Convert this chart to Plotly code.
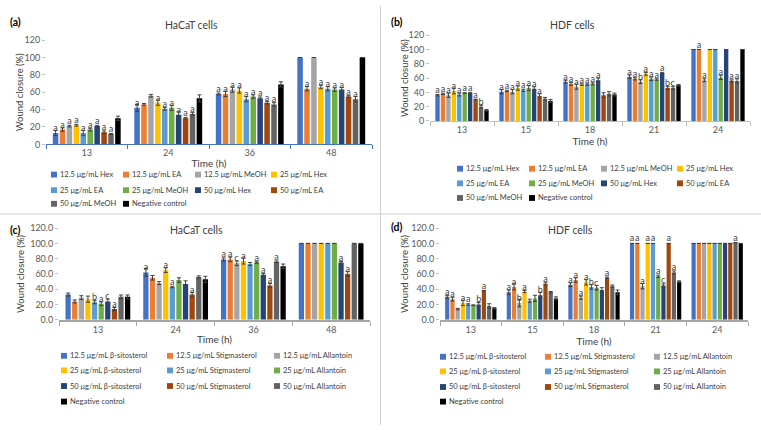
import plotly.graph_objects as go

W, H = 761, 430

# ---------------- data ----------------
SERIES_EXTRACT = ["12.5 μg/mL Hex", "12.5 μg/mL EA", "12.5 μg/mL MeOH", "25 μg/mL Hex",
                  "25 μg/mL EA", "25 μg/mL MeOH", "50 μg/mL Hex", "50 μg/mL EA",
                  "50 μg/mL MeOH", "Negative control"]
SERIES_COMPOUND = ["12.5 μg/mL β-sitosterol", "12.5 μg/mL Stigmasterol", "12.5 μg/mL Allantoin",
                   "25 μg/mL β-sitosterol", "25 μg/mL Stigmasterol", "25 μg/mL Allantoin",
                   "50 μg/mL β-sitosterol", "50 μg/mL Stigmasterol", "50 μg/mL Allantoin",
                   "Negative control"]
COLORS = ["#4472C4", "#ED7D31", "#A5A5A5", "#FFC000", "#5B9BD5",
          "#70AD47", "#264478", "#9E480E", "#636363", "#000000"]

TIMES_HACAT = ["13", "24", "36", "48"]
TIMES_HDF = ["13", "15", "18", "21", "24"]

# (a) HaCaT, extracts  -- one list per series, one value per time
A_VALUES = [
    [13, 42, 58, 100], [17, 46, 58, 64], [21, 56, 63, 100], [22, 48, 62, 66], [13, 41, 52, 64],
    [17, 42, 55, 63], [21, 34, 53, 63], [14, 30, 48, 55], [12, 35, 46, 52], [30, 53, 69, 100],
]
A_ERRORS = [
    [3, 4, 1, 0], [2, 1, 3, 2.5], [1, 1.5, 3, 0], [1, 3, 3, 2], [3, 1.5, 3, 2.5],
    [1.5, 3, 2, 2], [1, 3.5, 1.5, 2.5], [1.5, 1, 1.5, 1], [0.5, 1.5, 2, 3], [2.5, 4, 3, 0],
]
A_LABELS = [  # one list per time, one letter per series
    ["a", "a", "a", "a", "a", "a", "a", "a", "a", ""],
    ["a", "", "", "a", "a", "a", "a", "a", "a", ""],
    ["a", "a", "a", "a", "a", "a", "a", "a", "a", ""],
    ["", "a", "", "a", "a", "a", "a", "a", "a", ""],
]

# (b) HDF, extracts
B_VALUES = [
    [36, 41, 55, 62, 100], [38, 42, 52, 59, 100], [36, 41, 48, 55, 57], [42, 46, 51, 66, 100],
    [37, 43, 51, 59, 100], [39, 46, 52, 58, 61], [39, 45, 57, 67, 100], [30, 35, 36, 46, 56],
    [20, 31, 38, 46, 56], [15, 28, 37, 50, 100],
]
B_ERRORS = [
    [1, 3, 2, 2.5, 0], [1, 1, 2, 1.5, 0], [3, 3, 3.5, 2.5, 2], [4, 3, 1, 2, 0],
    [2, 1.5, 1, 2.5, 0], [0.5, 3.5, 1.5, 1, 3], [1, 3, 3, 1, 0], [0.5, 3, 3.5, 2, 1.5],
    [2, 2, 3, 2, 3], [1, 2, 2, 1, 0],
]
B_LABELS = [
    ["a", "a", "a", "a", "a", "a", "a", "a", "b", ""],
    ["a", "a", "a", "a", "a", "a", "a", "a", "", ""],
    ["a", "a", "a", "a", "a", "a", "a", "", "", ""],
    ["a", "a", "b", "a", "a", "a", "a", "b", "c", ""],
    ["", "a", "a", "", "", "a", "", "a", "a", ""],
]

# (c) HaCaT, compounds
C_VALUES = [
    [33, 62, 79, 100], [24, 55, 79, 100], [29, 48, 74, 100], [27, 65, 77, 100], [23, 43, 73, 100],
    [21, 52, 75, 100], [24, 47, 59, 75], [14, 33, 45, 60], [30, 56, 76, 100], [30, 53, 70, 100],
]
C_ERRORS = [
    [2, 5, 2, 0], [2, 3, 3, 0], [2.5, 2, 3, 0], [4, 3, 4, 0], [2, 1, 2, 0],
    [2.5, 3, 1, 0], [3, 4, 1.5, 1.5], [2, 3, 2.5, 3], [2.5, 1.5, 1, 0], [2.5, 4, 3, 0],
]
C_LABELS = [
    ["", "", "", "", "b", "a", "c", "a", "", ""],
    ["a", "", "", "a", "a", "", "", "a", "", ""],
    ["a", "a", "c", "a", "", "a", "a", "a", "a", ""],
    ["", "", "", "", "", "", "a", "a", "", ""],
]

# (d) HDF, compounds
D_VALUES = [
    [30, 36, 46, 100, 100], [27, 43, 52, 100, 100], [14, 22, 29, 44, 100], [22, 37, 49, 100, 100],
    [20, 25, 43, 100, 100], [19, 28, 42, 57, 100], [20, 32, 39, 45, 100], [38, 47, 55, 100, 100],
    [18, 36, 44, 62, 101], [15, 28, 36, 50, 100],
]
D_ERRORS = [
    [2, 3, 2.5, 0, 0], [2.5, 4, 3, 0, 0], [1, 5, 2, 3.5, 0], [3.5, 1.5, 3.5, 0, 0],
    [1, 2, 3, 0, 0], [0.5, 4, 3, 1.5, 0], [2.5, 4, 3, 2, 0], [0.5, 1.5, 1, 0, 0],
    [3, 1, 1.5, 2, 0], [1, 2, 3, 1, 0],
]
D_LABELS = [
    ["a", "a", "", "a", "a", "", "b", "a", "", ""],
    ["a", "a", "b", "a", "", "", "b", "a", "", ""],
    ["a", "a", "a", "a", "b", "c", "", "a", "", ""],
    ["a", "a", "a", "a", "a", "a", "c", "a", "a", ""],
    ["", "", "", "", "", "", "", "", "a", ""],
]

# ---------------- layout helpers ----------------
FONT = "Lato"
def px_x(x):
    return x / W
def px_y(y):
    return 1 - y / H

PANELS = [
    dict(tag="(a)", title="HaCaT cells", times=TIMES_HACAT, values=A_VALUES, errors=A_ERRORS,
         labels=A_LABELS, names=SERIES_EXTRACT, x0=46, x1=372, y0=142, y1=35, fmt="d",
         line="#4472C4", lw=1.2, title_xy=(192, 19), tag_xy=(8, 16), ytitle_x=19,
         leg_cols=[54, 126, 198, 274], leg_rows=[173, 189, 203], ncols=4, xstand=2),
    dict(tag="(b)", title="HDF cells", times=TIMES_HDF, values=B_VALUES, errors=B_ERRORS,
         labels=B_LABELS, names=SERIES_EXTRACT, x0=430, x1=750, y0=118, y1=30, fmt="d",
         line="#BFBFBF", lw=1.2, title_xy=(572, 20), tag_xy=(389, 16), ytitle_x=404,
         leg_cols=[460, 532, 604, 680], leg_rows=[167, 182, 197], ncols=4, xstand=4),
    dict(tag="(c)", title="HaCaT cells", times=TIMES_HACAT, values=C_VALUES, errors=C_ERRORS,
         labels=C_LABELS, names=SERIES_COMPOUND, x0=59, x1=370, y0=322, y1=228, fmt=".1f",
         line="#A6A6A6", lw=2, title_xy=(197, 230), tag_xy=(8, 230), ytitle_x=21,
         leg_cols=[64, 170, 277], leg_rows=[359, 374, 390, 406], ncols=3, xstand=2),
    dict(tag="(d)", title="HDF cells", times=TIMES_HDF, values=D_VALUES, errors=D_ERRORS,
         labels=D_LABELS, names=SERIES_COMPOUND, x0=440, x1=748, y0=322, y1=228, fmt=".1f",
         line="#A6A6A6", lw=2, title_xy=(570, 230), tag_xy=(389, 227), ytitle_x=405,
         leg_cols=[443, 548, 657], leg_rows=[360, 375, 391, 406], ncols=3, xstand=2),
]

fig = go.Figure()
annotations = []
shapes = []
layout_axes = {}

for p_i, p in enumerate(PANELS):
    suffix = "" if p_i == 0 else str(p_i + 1)
    xa, ya = "x" + suffix, "y" + suffix
    for s_i, name in enumerate(p["names"]):
        errs = [e if e > 0 else None for e in p["errors"][s_i]]
        texts = [p["labels"][t_i][s_i] for t_i in range(len(p["times"]))]
        fig.add_trace(go.Bar(
            x=p["times"], y=p["values"][s_i], name=name, xaxis=xa, yaxis=ya,
            marker=dict(color=COLORS[s_i], line=dict(width=0)),
            error_y=dict(type="data", array=errs, color="#404040", thickness=1, width=2),
            text=texts, textposition="outside", textangle=0, constraintext="none",
            cliponaxis=False, textfont=dict(family=FONT, size=9, color="#404040"),
            showlegend=False, hoverinfo="skip",
        ))
    layout_axes["xaxis" + suffix] = dict(
        type="category", domain=[px_x(p["x0"]), px_x(p["x1"])], anchor=ya,
        showline=True, linecolor=p["line"], linewidth=p["lw"],
        ticks="outside", tickson="boundaries", ticklen=4, tickcolor=p["line"],
        tickfont=dict(family=FONT, size=9, color="#595959"), showgrid=False,
        title=dict(text="Time (h)", font=dict(family=FONT, size=10, color="#404040"),
                   standoff=p["xstand"]),
    )
    layout_axes["yaxis" + suffix] = dict(
        domain=[px_y(p["y0"]), px_y(p["y1"])], anchor=xa, range=[0, 120], dtick=20,
        tickformat=p["fmt"], showline=False, showgrid=False, zeroline=False,
        ticks="outside", ticklen=3, tickcolor="#BFBFBF",
        tickfont=dict(family=FONT, size=9, color="#595959"),
    )
    # y-axis title
    annotations.append(dict(text="Wound closure (%)", x=px_x(p["ytitle_x"]),
                            y=px_y((p["y0"] + p["y1"]) / 2), xref="paper", yref="paper",
                            textangle=-90, showarrow=False, xanchor="center", yanchor="middle",
                            font=dict(family=FONT, size=9.5, color="#404040")))
    # panel title and tag
    tx, ty = p["title_xy"]
    annotations.append(dict(text=p["title"], x=px_x(tx), y=px_y(ty), xref="paper", yref="paper",
                            showarrow=False, xanchor="center", yanchor="middle",
                            font=dict(family=FONT, size=10.5, color="#404040")))
    gx, gy = p["tag_xy"]
    annotations.append(dict(text="<b>" + p["tag"] + "</b>", x=px_x(gx), y=px_y(gy), xref="paper",
                            yref="paper", showarrow=False, xanchor="left", yanchor="middle",
                            font=dict(family=FONT, size=10.5, color="#000000")))
    # legend (Excel-style grid)
    for s_i, name in enumerate(p["names"]):
        cx = p["leg_cols"][s_i % p["ncols"]]
        cy = p["leg_rows"][s_i // p["ncols"]]
        shapes.append(dict(type="rect", xref="paper", yref="paper",
                           x0=px_x(cx - 3), x1=px_x(cx + 3), y0=px_y(cy + 3), y1=px_y(cy - 3),
                           fillcolor=COLORS[s_i], line=dict(width=0)))
        annotations.append(dict(text=name, x=px_x(cx + 4), y=px_y(cy), xref="paper", yref="paper",
                                showarrow=False, xanchor="left", yanchor="middle",
                                font=dict(family=FONT, size=7.5, color="#404040")))

# panel separators
shapes.append(dict(type="line", xref="paper", yref="paper", x0=px_x(380.5), x1=px_x(380.5),
                   y0=0, y1=1, line=dict(color="#D0D0D0", width=1)))
shapes.append(dict(type="line", xref="paper", yref="paper", x0=0, x1=1,
                   y0=px_y(213.5), y1=px_y(213.5), line=dict(color="#D0D0D0", width=1)))

fig.update_layout(
    width=W, height=H, margin=dict(l=0, r=0, t=0, b=0),
    paper_bgcolor="white", plot_bgcolor="white",
    barmode="group", bargap=0.15, bargroupgap=0.2,
    font=dict(family=FONT, size=9, color="#404040"),
    annotations=annotations, shapes=shapes, showlegend=False,
    **layout_axes,
)

fig.write_html("out.html")
